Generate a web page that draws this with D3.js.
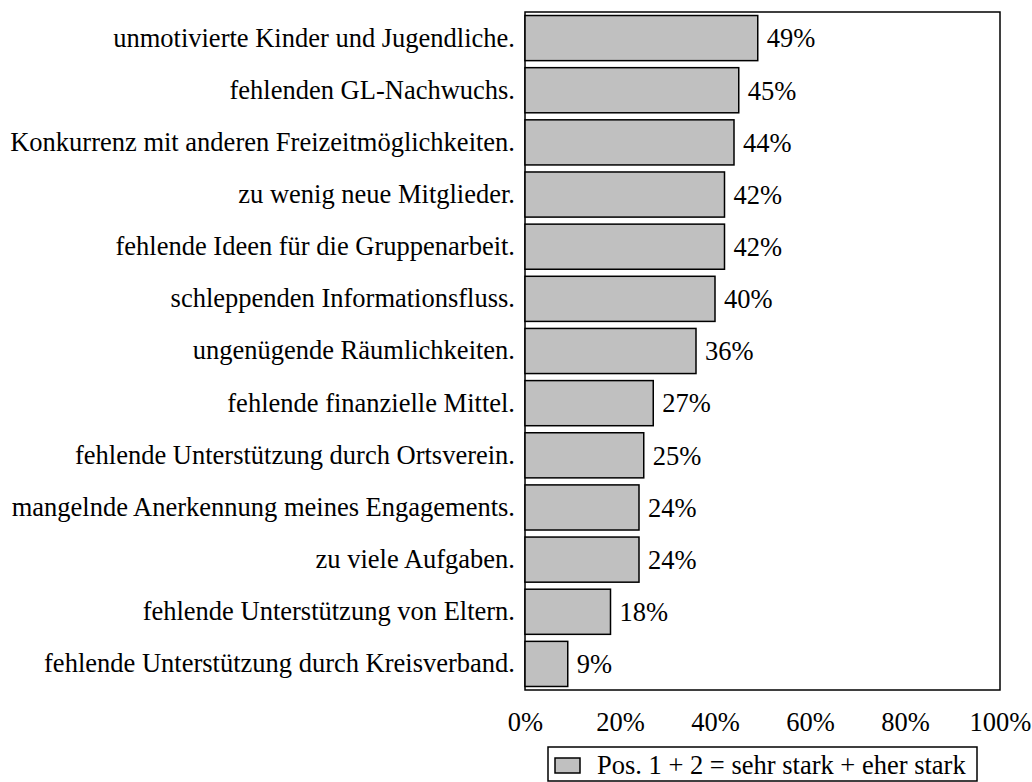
<!DOCTYPE html>
<html>
<head>
<meta charset="utf-8">
<script src="https://cdn.jsdelivr.net/npm/d3@7"></script>
<style>
  body { margin: 0; background: #fff; }
  svg text { font-family: "Liberation Serif", "Times New Roman", serif; fill: #000; }
</style>
</head>
<body>
<svg></svg>
<script>
const categories = [
    "unmotivierte Kinder und Jugendliche.",
    "fehlenden GL-Nachwuchs.",
    "Konkurrenz mit anderen Freizeitmöglichkeiten.",
    "zu wenig neue Mitglieder.",
    "fehlende Ideen für die Gruppenarbeit.",
    "schleppenden Informationsfluss.",
    "ungenügende Räumlichkeiten.",
    "fehlende finanzielle Mittel.",
    "fehlende Unterstützung durch Ortsverein.",
    "mangelnde Anerkennung meines Engagements.",
    "zu viele Aufgaben.",
    "fehlende Unterstützung von Eltern.",
    "fehlende Unterstützung durch Kreisverband."
];
const values = [49, 45, 44, 42, 42, 40, 36, 27, 25, 24, 24, 18, 9];
const ticks = [0, 20, 40, 60, 80, 100];
const legendLabel = "Pos. 1 + 2 = sehr stark + eher stark";

const svgWidth = 1032, svgHeight = 782;
const margin = { top: 12, right: 32, bottom: 92, left: 525 };
const width = svgWidth - margin.left - margin.right;
const height = svgHeight - margin.top - margin.bottom;
const fontSize = "26.5px";

const svg = d3.select("svg")
    .attr("width", svgWidth)
    .attr("height", svgHeight);

const g = svg.append("g")
    .attr("transform", "translate(" + margin.left + "," + margin.top + ")");

const x = d3.scaleLinear().domain([0, 100]).range([0, width]);
const y = d3.scaleBand()
    .domain(categories)
    .range([0, height])
    .paddingInner(0.135)
    .paddingOuter(0.0675);

// frame
g.append("rect")
    .attr("width", width)
    .attr("height", height)
    .attr("fill", "none")
    .attr("stroke", "#000")
    .attr("stroke-width", 1.5);

g.selectAll(".bar")
    .data(values)
    .enter().append("rect")
    .attr("class", "bar")
    .attr("x", x(0))
    .attr("y", (d, i) => y(categories[i]))
    .attr("width", d => x(d))
    .attr("height", y.bandwidth())
    .attr("fill", "#c0c0c0")
    .attr("stroke", "#000")
    .attr("stroke-width", 1.5);

g.selectAll(".val")
    .data(values)
    .enter().append("text")
    .attr("class", "val")
    .attr("x", d => x(d) + 9)
    .attr("y", (d, i) => y(categories[i]) + y.bandwidth() / 2)
    .attr("dy", "0.35em")
    .style("font-size", fontSize)
    .text(d => d + "%");

// category labels
const yAxis = g.append("g")
    .call(d3.axisLeft(y).tickSize(0).tickPadding(10));
yAxis.select(".domain").remove();
yAxis.selectAll("text")
    .style("font-size", fontSize)
    .style("font-family", "'Liberation Serif', 'Times New Roman', serif");

// x axis labels
const xAxis = g.append("g")
    .attr("transform", "translate(0," + height + ")")
    .call(d3.axisBottom(x).tickValues(ticks).tickSize(0).tickPadding(22).tickFormat(d => d + "%"));
xAxis.select(".domain").remove();
xAxis.selectAll("text")
    .style("font-size", fontSize)
    .style("font-family", "'Liberation Serif', 'Times New Roman', serif");

// legend
const legend = svg.append("g")
    .attr("transform", "translate(548,747)");
legend.append("rect")
    .attr("width", 429)
    .attr("height", 34)
    .attr("fill", "#fff")
    .attr("stroke", "#000")
    .attr("stroke-width", 1.5);
legend.append("rect")
    .attr("x", 7)
    .attr("y", 11)
    .attr("width", 25)
    .attr("height", 15)
    .attr("fill", "#c0c0c0")
    .attr("stroke", "#000")
    .attr("stroke-width", 1.5);
legend.append("text")
    .attr("x", 49)
    .attr("y", 18)
    .attr("dy", "0.35em")
    .style("font-size", fontSize)
    .text(legendLabel);
</script>
</body>
</html>
